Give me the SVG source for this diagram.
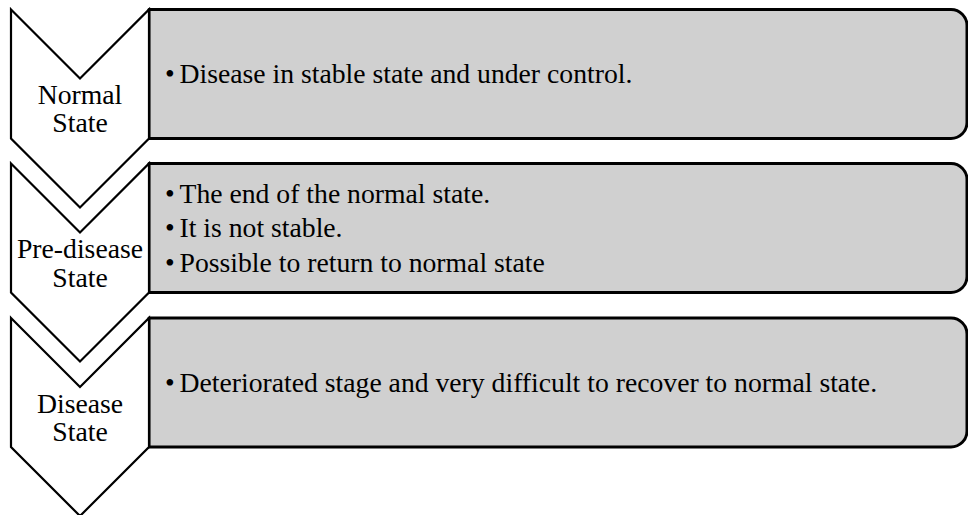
<svg xmlns="http://www.w3.org/2000/svg" width="968" height="515" viewBox="0 0 968 515">
  <style>
    .chev { fill: #ffffff; stroke: #000000; stroke-width: 2.2; stroke-linejoin: miter; }
    .box { fill: #d0d0d0; stroke: #000000; stroke-width: 3; stroke-linejoin: round; }
    .lbl { font-family: "Liberation Serif", "Times New Roman", serif; font-size: 27.7px; fill: #000000; }
    .mid { text-anchor: middle; }
  </style>
  <rect x="0" y="0" width="968" height="515" fill="#ffffff"/>

  <!-- detail boxes (square on the left, rounded on the right) -->
  <g id="box-normal">
    <path class="box" d="M149,9.5 H951 A16,16 0 0 1 967,25.5 V122.5 A16,16 0 0 1 951,138.5 H149 Z"/>
    <text class="lbl" x="165" y="83">•</text>
    <text class="lbl" x="179.5" y="83">Disease in stable state and under control.</text>
  </g>
  <g id="box-prediseased">
    <path class="box" d="M149,163.5 H951 A16,16 0 0 1 967,179.5 V276.5 A16,16 0 0 1 951,292.5 H149 Z"/>
    <text class="lbl" x="165" y="202.5">•</text>
    <text class="lbl" x="179.5" y="202.5">The end of the normal state.</text>
    <text class="lbl" x="165" y="237">•</text>
    <text class="lbl" x="179.5" y="237">It is not stable.</text>
    <text class="lbl" x="165" y="271.5">•</text>
    <text class="lbl" x="179.5" y="271.5">Possible to return to normal state</text>
  </g>
  <g id="box-disease">
    <path class="box" d="M149,318 H951 A16,16 0 0 1 967,334 V431 A16,16 0 0 1 951,447 H149 Z"/>
    <text class="lbl" x="165" y="392">•</text>
    <text class="lbl" x="179.5" y="392">Deteriorated stage and very difficult to recover to normal state.</text>
  </g>

  <!-- chevron stage markers -->
  <g id="stage-normal">
    <path class="chev" d="M11,9.5 L80,78.5 L149,9.5 L149,138.5 L80,207.5 L11,138.5 Z"/>
    <text class="lbl mid" x="80" y="104">Normal</text>
    <text class="lbl mid" x="80" y="132">State</text>
  </g>
  <g id="stage-prediseased">
    <path class="chev" d="M11,163.5 L80,232.5 L149,163.5 L149,292.5 L80,361.5 L11,292.5 Z"/>
    <text class="lbl mid" x="80" y="258">Pre-disease</text>
    <text class="lbl mid" x="80" y="287">State</text>
  </g>
  <g id="stage-disease">
    <path class="chev" d="M11,318 L80,387 L149,318 L149,447 L80,516 L11,447 Z"/>
    <text class="lbl mid" x="80" y="413">Disease</text>
    <text class="lbl mid" x="80" y="441">State</text>
  </g>

  <g id="connectors"></g>
</svg>
